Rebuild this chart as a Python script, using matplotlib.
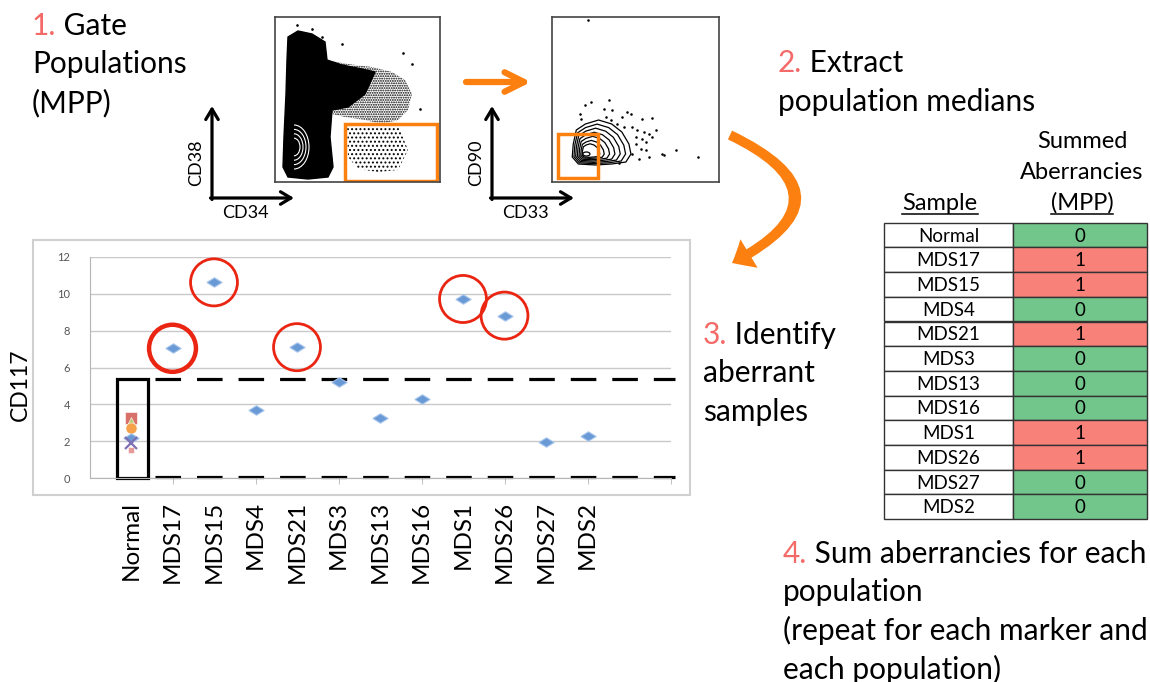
import numpy as np
import matplotlib.pyplot as plt
from matplotlib.patches import Rectangle, Ellipse, Polygon, Arc, FancyArrowPatch
from matplotlib.path import Path

plt.rcParams['font.family'] = ['Lato', 'DejaVu Sans']
plt.rcParams['hatch.linewidth'] = 0.9

W, H = 1150, 682

# ---- data ----
samples = ['Normal', 'MDS17', 'MDS15', 'MDS4', 'MDS21', 'MDS3', 'MDS13',
           'MDS16', 'MDS1', 'MDS26', 'MDS27', 'MDS2']
cd117 = [2.17, 7.04, 10.61, 3.70, 7.10, 5.23, 3.25, 4.28, 9.71, 8.81, 1.99, 2.31]
aberrancies = [0, 1, 1, 0, 1, 0, 0, 0, 1, 1, 0, 0]
normal_other = [1.53, 3.28, 3.00, 2.74, 1.90]
normal_markers = ['s', 's', '^', 'o', 'x']
normal_colors = ['#e79a9a', '#d9716b', '#b8cc6e', '#f6a24a', '#7f6fb3']
upper_limit = 5.38
lower_limit = 0.08
y_ticks = [0, 2, 4, 6, 8, 10, 12]

# flow plot shapes (pixel coords inside each 165 px box)
core1 = [(13, 20), (23, 14), (37, 17), (50, 25), (52, 43), (67, 48), (87, 52), (100, 55),
         (90, 77), (73, 90), (57, 93), (55, 120), (58, 150), (53, 160), (33, 162),
         (13, 160), (8, 150), (9, 120), (11, 77), (12, 43)]
band1 = [(50, 43), (73, 47), (97, 50), (117, 55), (130, 63), (137, 77), (133, 93),
         (123, 103), (107, 107), (90, 103), (70, 100), (57, 97)]
gated1 = [(72, 108), (100, 107), (123, 108), (133, 133), (123, 153), (103, 155),
          (83, 152), (73, 140)]
stray1 = [(67, 27), (128, 36), (137, 47), (145, 92), (37, 12), (47, 20), (22, 8)]
outer2 = [(21, 127), (24, 113), (33, 107), (46, 103), (59, 107), (69, 115), (76, 127),
          (78, 137), (73, 145), (59, 147), (43, 148), (26, 147), (20, 140)]
stray2 = [(36, 3), (56, 83), (39, 85), (33, 88), (28, 97), (29, 102), (51, 92), (59, 93),
          (74, 95), (78, 97), (69, 100), (89, 102), (99, 101), (53, 100), (58, 103),
          (64, 107), (71, 110), (79, 110), (84, 113), (91, 115), (96, 117), (103, 113),
          (83, 120), (89, 122), (93, 125), (88, 132), (93, 133), (96, 140), (86, 142),
          (109, 137), (111, 138), (123, 133), (144, 140), (99, 120), (83, 127),
          (79, 137), (66, 146)]

RED_NUM = '#f36a68'
ORANGE = '#fb8010'
BIG = 21.5


def px_rect(x0, y0, x1, y1):
    return [x0 / W, 1 - y1 / H, (x1 - x0) / W, (y1 - y0) / H]


fig = plt.figure(figsize=(W / 100, H / 100), dpi=100)
bg = fig.add_axes([0, 0, 1, 1])
bg.set_xlim(0, W)
bg.set_ylim(H, 0)
bg.axis('off')


def step_text(x, y, num, lines, size=BIG):
    t = bg.text(x, y, num, color=RED_NUM, fontsize=size, va='baseline', ha='left')
    bg.annotate(' ' + lines[0], xy=(1, 0), xycoords=t, va='bottom', ha='left',
                fontsize=size, color='black')
    for i, ln in enumerate(lines[1:]):
        bg.text(x, y + 38.5 * (i + 1), ln, fontsize=size, va='baseline', ha='left')


step_text(32, 35, '1.', ['Gate', 'Populations', '(MPP)'])
step_text(778, 72, '2.', ['Extract', 'population medians'])
step_text(703, 344, '3.', ['Identify', 'aberrant', 'samples'])
step_text(783, 563, '4.', ['Sum aberrancies for each', 'population',
                           '(repeat for each marker and', 'each population)'])

# ---- flow plots ----
fa1 = fig.add_axes(px_rect(275, 17, 440, 182))
fa2 = fig.add_axes(px_rect(552, 17, 719, 182))
for fa in (fa1, fa2):
    fa.set_xlim(0, 165)
    fa.set_ylim(165, 0)
    fa.set_xticks([])
    fa.set_yticks([])
    for s in fa.spines.values():
        s.set_color('#444444')
        s.set_linewidth(1.2)

fa1.add_patch(Polygon(band1, closed=True, fc='none', ec='black', hatch='.......', lw=0))
fa1.add_patch(Polygon(gated1, closed=True, fc='none', ec='black', hatch='....', lw=0))
fa1.add_patch(Polygon(core1, closed=True, fc='black', ec='black'))
for k in [1.0, 0.8, 0.6, 0.4]:
    fa1.add_patch(Arc((19, 130), 30 * k, 44 * k, theta1=-90, theta2=90,
                      color='white', lw=0.8))
fa1.scatter([p[0] for p in stray1], [p[1] for p in stray1], s=0.8, c='black')
fa1.add_patch(Rectangle((70, 107), 92, 57, fill=False, ec=ORANGE, lw=2.5))

cx, cy = 34, 137
ox = np.array([p[0] for p in outer2])
oy = np.array([p[1] for p in outer2])
fa2.scatter([p[0] for p in stray2], [p[1] for p in stray2], s=0.7, c='black')
for k in [1.0, 0.88, 0.76, 0.64, 0.52, 0.4, 0.3]:
    fa2.add_patch(Polygon(np.column_stack([cx + (ox - cx) * k, cy + (oy - cy) * k]),
                          closed=True, fill=False, ec='black', lw=0.9))
fa2.add_patch(Ellipse((cx, cy), 7, 4, fc='white', ec='black', lw=0.9))
fa2.add_patch(Rectangle((6, 117), 39, 44, fill=False, ec=ORANGE, lw=2.5))

# axis arrows next to the flow plots
for (x0, y0, lx, ly) in [(212, 198, 'CD38', 'CD34'), (492, 198, 'CD90', 'CD33')]:
    bg.annotate('', xy=(x0, 106), xytext=(x0, y0 + 1.5),
                arrowprops=dict(arrowstyle='->,head_length=0.5,head_width=0.3',
                                lw=2.3, color='black', mutation_scale=15,
                                shrinkA=0, shrinkB=0))
    bg.annotate('', xy=(x0 + 82, y0), xytext=(x0 - 1.5, y0),
                arrowprops=dict(arrowstyle='->,head_length=0.5,head_width=0.3',
                                lw=2.3, color='black', mutation_scale=15,
                                shrinkA=0, shrinkB=0))
    bg.text(x0 - 8, 163, lx, rotation=90, ha='right', va='center', fontsize=13)
    bg.text(x0 + 10, 213, ly, ha='left', va='center', fontsize=13)

# orange arrows
bg.annotate('', xy=(531, 82), xytext=(466, 82),
            arrowprops=dict(arrowstyle='->,head_length=0.7,head_width=0.35',
                            lw=4.5, color=ORANGE, mutation_scale=20,
                            shrinkA=0, shrinkB=0))
curve = Path([(730, 135), (859, 197), (732, 263)],
             [Path.MOVETO, Path.CURVE3, Path.CURVE3])
bg.add_patch(FancyArrowPatch(path=curve,
                             arrowstyle='simple,head_length=1.4,head_width=2.4,tail_width=0.7',
                             mutation_scale=10, color=ORANGE, lw=0))

# ---- summary table ----
tx0, tx1, tx2 = 884, 1013, 1147
ty0, row_h = 222.7, 24.7
for i, (name, v) in enumerate(zip(samples, aberrancies)):
    y = ty0 + i * row_h
    bg.add_patch(Rectangle((tx0, y), tx1 - tx0, row_h, fc='white', ec='#333333', lw=1))
    bg.add_patch(Rectangle((tx1, y), tx2 - tx1, row_h,
                           fc='#f8817a' if v else '#72c58b', ec='#333333', lw=1))
    bg.text((tx0 + tx1) / 2, y + row_h / 2 + 1, name, ha='center', va='center', fontsize=13.5)
    bg.text((tx1 + tx2) / 2, y + row_h / 2 + 1, str(v), ha='center', va='center', fontsize=13.5)

hdr = []
hdr.append(bg.text(940, 210, 'Sample', ha='center', va='baseline', fontsize=17))
bg.text(1082, 148, 'Summed', ha='center', va='baseline', fontsize=17)
bg.text(1082, 179, 'Aberrancies', ha='center', va='baseline', fontsize=17)
hdr.append(bg.text(1082, 210, '(MPP)', ha='center', va='baseline', fontsize=17))

# ---- CD117 scatter chart ----
bg.add_patch(Rectangle((33, 240), 657, 255, fc='white', ec='#d0d0d0', lw=1.5))
bg.text(20, 385, 'CD117', rotation=90, ha='center', va='center', fontsize=16.5)

ax = fig.add_axes(px_rect(89.5, 256.7, 670.5, 478.3))
ax.patch.set_alpha(0)
xs = np.arange(1, len(samples) + 1)
ax.set_xlim(0, 14)
ax.set_ylim(0, 12)
for s in ['top', 'right']:
    ax.spines[s].set_visible(False)
for s in ['left', 'bottom']:
    ax.spines[s].set_color('#b5b5b5')
ax.set_yticks(y_ticks)
ax.tick_params(axis='y', length=0, pad=14, labelsize=8, labelcolor='#555555')
ax.yaxis.grid(True, color='#c9c9c9', lw=1)
ax.set_axisbelow(True)
ax.xaxis.remove_overlapping_locs = False
ax.set_xticks(xs, labels=samples)
ax.tick_params(axis='x', which='major', length=0, pad=16, labelsize=17.5, labelrotation=90)
ax.set_xticks(np.arange(2, 15, 2), minor=True)
ax.tick_params(axis='x', which='minor', length=4, color='#b5b5b5')

for v, m, c in zip(normal_other, normal_markers, normal_colors):
    ms = 5 if v < 1.6 else 8
    if m == 'x':
        ax.plot(1, v, marker='x', ms=8, mew=1.6, color=c, zorder=4)
    else:
        ax.plot(1, v, marker=m, ms=ms, color=c, mec='white', mew=0.4, zorder=3)

diamond = [(-1, 0), (0, 0.62), (1, 0), (0, -0.62), (-1, 0)]
ax.plot(xs, cd117, ls='none', marker=diamond, ms=11, mfc='#6a9ad6', mec='#a8c6ec',
        mew=0.8, zorder=3)

for x, v, a in zip(xs, cd117, aberrancies):
    if a:
        ax.add_patch(Ellipse((x, v), 1.13, 2.55, fill=False, ec='#ea2512',
                             lw=3.2 if x == 2 else 2.0, zorder=5))

ax.plot([1.58, 14.1], [upper_limit] * 2, ls=(0, (8, 5)), lw=2.3, color='black', clip_on=False)
ax.plot([1.58, 14.1], [lower_limit] * 2, ls=(0, (8, 5)), lw=2.3, color='black', clip_on=False)
ax.add_patch(Rectangle((0.66, 0), 0.74, 5.4, fill=False, ec='black', lw=2.3, clip_on=False))

# underline header words
fig.canvas.draw()
r = fig.canvas.get_renderer()
inv = bg.transData.inverted()
for t in hdr:
    bb = t.get_window_extent(r)
    (xa, _), (xb, _) = inv.transform([(bb.x0, bb.y0), (bb.x1, bb.y0)])
    bg.plot([xa, xb], [214, 214], color='black', lw=1.1)

fig.savefig('out.png', dpi=100)
